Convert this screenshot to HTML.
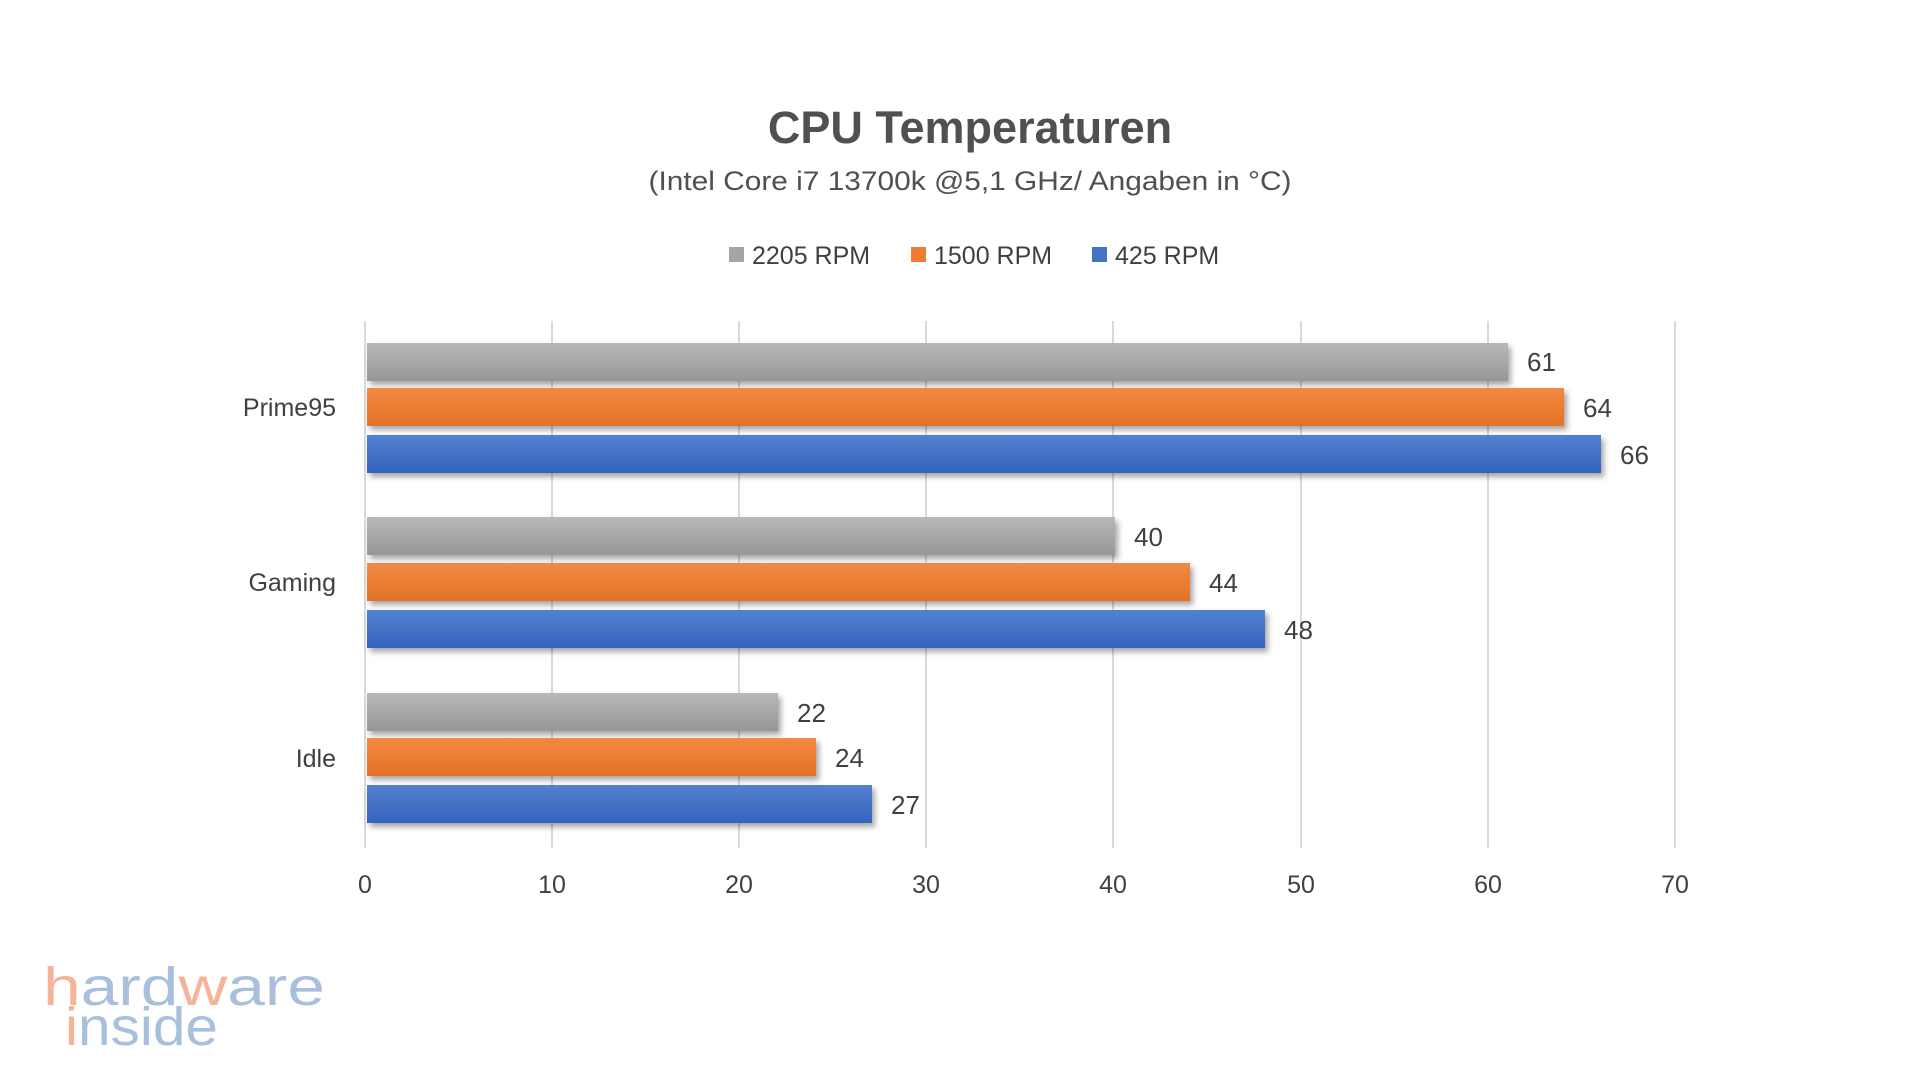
<!DOCTYPE html>
<html><head><meta charset="utf-8"><style>
html,body{margin:0;padding:0;background:#fff;}
svg{display:block;}
text{font-family:"Liberation Sans",sans-serif;fill:#404040;}
</style></head><body>
<svg width="1920" height="1080" viewBox="0 0 1920 1080" xmlns="http://www.w3.org/2000/svg">
<defs>
<linearGradient id="gg" x1="0" y1="0" x2="0" y2="1"><stop offset="0" stop-color="#b8b8b8"/><stop offset="0.5" stop-color="#a8a8a8"/><stop offset="1" stop-color="#969696"/></linearGradient>
<linearGradient id="go" x1="0" y1="0" x2="0" y2="1"><stop offset="0" stop-color="#f08a45"/><stop offset="0.5" stop-color="#ed7d31"/><stop offset="1" stop-color="#e0722a"/></linearGradient>
<linearGradient id="gb" x1="0" y1="0" x2="0" y2="1"><stop offset="0" stop-color="#5381d2"/><stop offset="0.5" stop-color="#4472c4"/><stop offset="1" stop-color="#3363c0"/></linearGradient>
<filter id="sh" x="-5%" y="-30%" width="115%" height="180%"><feDropShadow dx="3" dy="4" stdDeviation="3" flood-color="#000" flood-opacity="0.35"/></filter>
</defs>
<text x="970" y="143" text-anchor="middle" font-size="45" font-weight="bold" style="fill:#505050">CPU Temperaturen</text>
<text x="970" y="190" text-anchor="middle" font-size="27" textLength="643" lengthAdjust="spacingAndGlyphs" style="fill:#505050">(Intel Core i7 13700k @5,1 GHz/ Angaben in °C)</text>
<g font-size="25">
<rect x="729" y="247" width="15" height="15" fill="#a5a5a5"/><text x="752" y="264">2205 RPM</text>
<rect x="911" y="247" width="15" height="15" fill="#ed7d31"/><text x="934" y="264">1500 RPM</text>
<rect x="1092" y="247" width="15" height="15" fill="#4472c4"/><text x="1115" y="264">425 RPM</text>
</g>
<g stroke="#d9d9d9" stroke-width="2">
<line x1="365" y1="321" x2="365" y2="848"/><line x1="552" y1="321" x2="552" y2="848"/><line x1="739" y1="321" x2="739" y2="848"/><line x1="926" y1="321" x2="926" y2="848"/><line x1="1113" y1="321" x2="1113" y2="848"/><line x1="1301" y1="321" x2="1301" y2="848"/><line x1="1488" y1="321" x2="1488" y2="848"/><line x1="1675" y1="321" x2="1675" y2="848"/>
</g>
<g font-size="25" text-anchor="middle">
<text x="365" y="893">0</text><text x="552" y="893">10</text><text x="739" y="893">20</text><text x="926" y="893">30</text><text x="1113" y="893">40</text><text x="1301" y="893">50</text><text x="1488" y="893">60</text><text x="1675" y="893">70</text>
</g>
<g font-size="25" text-anchor="end">
<text x="336" y="416">Prime95</text><text x="336" y="591">Gaming</text><text x="336" y="767">Idle</text>
</g>
<g filter="url(#sh)">
<rect x="367" y="343" width="1141" height="38" fill="url(#gg)"/>
<rect x="367" y="388" width="1197" height="38" fill="url(#go)"/>
<rect x="367" y="435" width="1234" height="38" fill="url(#gb)"/>
<rect x="367" y="517" width="748" height="38" fill="url(#gg)"/>
<rect x="367" y="563" width="823" height="38" fill="url(#go)"/>
<rect x="367" y="610" width="898" height="38" fill="url(#gb)"/>
<rect x="367" y="693" width="411" height="38" fill="url(#gg)"/>
<rect x="367" y="738" width="449" height="38" fill="url(#go)"/>
<rect x="367" y="785" width="505" height="38" fill="url(#gb)"/>
</g>
<g font-size="26">
<text x="1527" y="371">61</text><text x="1583" y="417">64</text><text x="1620" y="464">66</text>
<text x="1134" y="546">40</text><text x="1209" y="592">44</text><text x="1284" y="639">48</text>
<text x="797" y="722">22</text><text x="835" y="767">24</text><text x="891" y="814">27</text>
</g>
<g font-size="54">
<text x="43" y="1005" textLength="282" lengthAdjust="spacingAndGlyphs" style="fill:#a9c0dd"><tspan style="fill:#f5b49a">h</tspan>ard<tspan style="fill:#f5b49a">w</tspan>are</text>
<text x="65" y="1045" textLength="153" lengthAdjust="spacingAndGlyphs" style="fill:#a9c0dd"><tspan style="fill:#f5b49a">i</tspan>nside</text>
</g>
</svg>
</body></html>
